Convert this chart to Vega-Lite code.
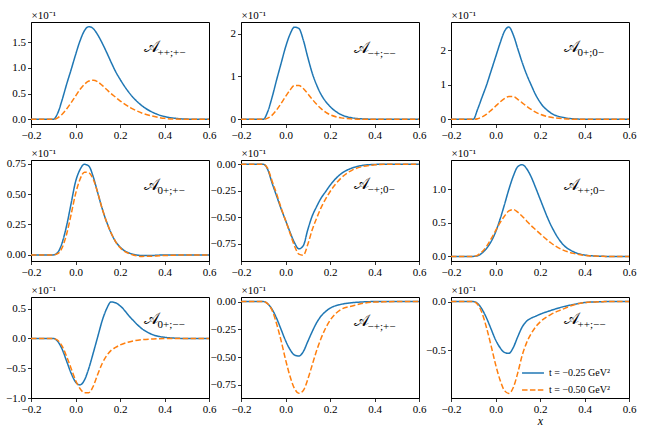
{
"$schema":"https://vega.github.io/schema/vega-lite/v6.json",
"autosize":{"type":"pad"},
"padding":{"left":5,"top":8,"right":5,"bottom":5},
"background":"white",
"datasets":{
"lab":[{"p":1,"sub":"++;+−"},{"p":2,"sub":"−+;−−"},{"p":3,"sub":"0+;0−"},{"p":4,"sub":"0+;+−"},{"p":5,"sub":"−+;0−"},{"p":6,"sub":"++;0−"},{"p":7,"sub":"0+;−−"},{"p":8,"sub":"−+;+−"},{"p":9,"sub":"++;−−"}],
"d":[
{"p":1,"x":-0.2,"a":0,"b":0},{"p":1,"x":-0.1,"a":0,"b":0},{"p":1,"x":-0.08,"a":0.12,"b":0.03},{"p":1,"x":-0.06,"a":0.38,"b":0.1},{"p":1,"x":-0.04,"a":0.68,"b":0.2},{"p":1,"x":-0.02,"a":0.96,"b":0.32},{"p":1,"x":0,"a":1.25,"b":0.45},{"p":1,"x":0.02,"a":1.52,"b":0.58},{"p":1,"x":0.04,"a":1.72,"b":0.68},{"p":1,"x":0.06,"a":1.8,"b":0.745},{"p":1,"x":0.08,"a":1.76,"b":0.76},{"p":1,"x":0.1,"a":1.64,"b":0.73},{"p":1,"x":0.12,"a":1.48,"b":0.66},{"p":1,"x":0.14,"a":1.3,"b":0.58},{"p":1,"x":0.16,"a":1.11,"b":0.5},{"p":1,"x":0.18,"a":0.93,"b":0.43},{"p":1,"x":0.2,"a":0.78,"b":0.36},{"p":1,"x":0.25,"a":0.47,"b":0.22},{"p":1,"x":0.3,"a":0.26,"b":0.12},{"p":1,"x":0.35,"a":0.13,"b":0.06},{"p":1,"x":0.4,"a":0.055,"b":0.02},{"p":1,"x":0.45,"a":0.02,"b":0.005},{"p":1,"x":0.5,"a":0.005,"b":0},{"p":1,"x":0.6,"a":0,"b":0},
{"p":2,"x":-0.2,"a":0,"b":0},{"p":2,"x":-0.1,"a":0,"b":0},{"p":2,"x":-0.08,"a":0.18,"b":0.03},{"p":2,"x":-0.06,"a":0.52,"b":0.1},{"p":2,"x":-0.04,"a":0.92,"b":0.22},{"p":2,"x":-0.02,"a":1.3,"b":0.37},{"p":2,"x":0,"a":1.68,"b":0.53},{"p":2,"x":0.02,"a":1.98,"b":0.68},{"p":2,"x":0.04,"a":2.15,"b":0.79},{"p":2,"x":0.06,"a":2.12,"b":0.79},{"p":2,"x":0.08,"a":1.85,"b":0.72},{"p":2,"x":0.1,"a":1.45,"b":0.6},{"p":2,"x":0.12,"a":1.08,"b":0.47},{"p":2,"x":0.14,"a":0.8,"b":0.35},{"p":2,"x":0.16,"a":0.58,"b":0.25},{"p":2,"x":0.18,"a":0.42,"b":0.17},{"p":2,"x":0.2,"a":0.3,"b":0.11},{"p":2,"x":0.25,"a":0.11,"b":0.035},{"p":2,"x":0.3,"a":0.035,"b":0.01},{"p":2,"x":0.35,"a":0.01,"b":0},{"p":2,"x":0.4,"a":0.003,"b":0},{"p":2,"x":0.45,"a":0,"b":0},{"p":2,"x":0.5,"a":0,"b":0},{"p":2,"x":0.6,"a":0,"b":0},
{"p":3,"x":-0.2,"a":0,"b":0},{"p":3,"x":-0.1,"a":0,"b":0},{"p":3,"x":-0.08,"a":0.3,"b":0.02},{"p":3,"x":-0.06,"a":0.65,"b":0.07},{"p":3,"x":-0.04,"a":1.0,"b":0.15},{"p":3,"x":-0.02,"a":1.4,"b":0.26},{"p":3,"x":0,"a":1.8,"b":0.38},{"p":3,"x":0.02,"a":2.2,"b":0.5},{"p":3,"x":0.04,"a":2.55,"b":0.6},{"p":3,"x":0.06,"a":2.68,"b":0.66},{"p":3,"x":0.08,"a":2.45,"b":0.66},{"p":3,"x":0.1,"a":2.05,"b":0.58},{"p":3,"x":0.12,"a":1.65,"b":0.48},{"p":3,"x":0.14,"a":1.3,"b":0.38},{"p":3,"x":0.16,"a":1.0,"b":0.29},{"p":3,"x":0.18,"a":0.72,"b":0.21},{"p":3,"x":0.2,"a":0.5,"b":0.15},{"p":3,"x":0.25,"a":0.18,"b":0.06},{"p":3,"x":0.3,"a":0.06,"b":0.02},{"p":3,"x":0.35,"a":0.015,"b":0.005},{"p":3,"x":0.4,"a":0.003,"b":0},{"p":3,"x":0.45,"a":0,"b":0},{"p":3,"x":0.5,"a":0,"b":0},{"p":3,"x":0.6,"a":0,"b":0},
{"p":4,"x":-0.2,"a":0,"b":0},{"p":4,"x":-0.1,"a":0,"b":0},{"p":4,"x":-0.08,"a":0.02,"b":0.01},{"p":4,"x":-0.06,"a":0.1,"b":0.06},{"p":4,"x":-0.04,"a":0.24,"b":0.17},{"p":4,"x":-0.02,"a":0.42,"b":0.33},{"p":4,"x":0,"a":0.6,"b":0.5},{"p":4,"x":0.02,"a":0.7,"b":0.62},{"p":4,"x":0.04,"a":0.745,"b":0.68},{"p":4,"x":0.06,"a":0.73,"b":0.675},{"p":4,"x":0.08,"a":0.64,"b":0.62},{"p":4,"x":0.1,"a":0.51,"b":0.51},{"p":4,"x":0.12,"a":0.38,"b":0.38},{"p":4,"x":0.14,"a":0.27,"b":0.27},{"p":4,"x":0.16,"a":0.18,"b":0.18},{"p":4,"x":0.18,"a":0.11,"b":0.11},{"p":4,"x":0.2,"a":0.065,"b":0.06},{"p":4,"x":0.25,"a":0.01,"b":0.005},{"p":4,"x":0.3,"a":-0.005,"b":-0.012},{"p":4,"x":0.35,"a":-0.004,"b":-0.01},{"p":4,"x":0.4,"a":0,"b":-0.005},{"p":4,"x":0.45,"a":0,"b":-0.002},{"p":4,"x":0.5,"a":0,"b":0},{"p":4,"x":0.6,"a":0,"b":0},
{"p":5,"x":-0.2,"a":0,"b":0},{"p":5,"x":-0.1,"a":0,"b":0},{"p":5,"x":-0.08,"a":-0.05,"b":-0.04},{"p":5,"x":-0.06,"a":-0.18,"b":-0.16},{"p":5,"x":-0.04,"a":-0.3,"b":-0.28},{"p":5,"x":-0.02,"a":-0.42,"b":-0.41},{"p":5,"x":0,"a":-0.53,"b":-0.53},{"p":5,"x":0.02,"a":-0.64,"b":-0.65},{"p":5,"x":0.04,"a":-0.74,"b":-0.77},{"p":5,"x":0.06,"a":-0.8,"b":-0.85},{"p":5,"x":0.08,"a":-0.77,"b":-0.86},{"p":5,"x":0.1,"a":-0.62,"b":-0.76},{"p":5,"x":0.12,"a":-0.49,"b":-0.62},{"p":5,"x":0.14,"a":-0.4,"b":-0.51},{"p":5,"x":0.16,"a":-0.32,"b":-0.41},{"p":5,"x":0.18,"a":-0.26,"b":-0.33},{"p":5,"x":0.2,"a":-0.2,"b":-0.26},{"p":5,"x":0.25,"a":-0.09,"b":-0.13},{"p":5,"x":0.3,"a":-0.035,"b":-0.055},{"p":5,"x":0.35,"a":-0.01,"b":-0.02},{"p":5,"x":0.4,"a":-0.002,"b":-0.006},{"p":5,"x":0.45,"a":0,"b":-0.001},{"p":5,"x":0.5,"a":0,"b":0},{"p":5,"x":0.6,"a":0,"b":0},
{"p":6,"x":-0.2,"a":0,"b":0},{"p":6,"x":-0.1,"a":0,"b":0},{"p":6,"x":-0.08,"a":0.01,"b":0.02},{"p":6,"x":-0.06,"a":0.05,"b":0.07},{"p":6,"x":-0.04,"a":0.12,"b":0.15},{"p":6,"x":-0.02,"a":0.22,"b":0.26},{"p":6,"x":0,"a":0.36,"b":0.38},{"p":6,"x":0.02,"a":0.55,"b":0.5},{"p":6,"x":0.04,"a":0.77,"b":0.6},{"p":6,"x":0.06,"a":1.0,"b":0.68},{"p":6,"x":0.08,"a":1.2,"b":0.7},{"p":6,"x":0.1,"a":1.34,"b":0.66},{"p":6,"x":0.12,"a":1.37,"b":0.6},{"p":6,"x":0.14,"a":1.31,"b":0.53},{"p":6,"x":0.16,"a":1.19,"b":0.46},{"p":6,"x":0.18,"a":1.03,"b":0.4},{"p":6,"x":0.2,"a":0.86,"b":0.34},{"p":6,"x":0.25,"a":0.46,"b":0.2},{"p":6,"x":0.3,"a":0.19,"b":0.1},{"p":6,"x":0.35,"a":0.07,"b":0.045},{"p":6,"x":0.4,"a":0.02,"b":0.015},{"p":6,"x":0.45,"a":0.005,"b":0.004},{"p":6,"x":0.5,"a":0,"b":0},{"p":6,"x":0.6,"a":0,"b":0},
{"p":7,"x":-0.2,"a":0,"b":0},{"p":7,"x":-0.1,"a":0,"b":0},{"p":7,"x":-0.08,"a":-0.05,"b":-0.03},{"p":7,"x":-0.06,"a":-0.18,"b":-0.13},{"p":7,"x":-0.04,"a":-0.38,"b":-0.3},{"p":7,"x":-0.02,"a":-0.58,"b":-0.5},{"p":7,"x":0,"a":-0.73,"b":-0.7},{"p":7,"x":0.02,"a":-0.78,"b":-0.84},{"p":7,"x":0.04,"a":-0.7,"b":-0.91},{"p":7,"x":0.06,"a":-0.5,"b":-0.91},{"p":7,"x":0.08,"a":-0.24,"b":-0.8},{"p":7,"x":0.1,"a":0.03,"b":-0.6},{"p":7,"x":0.12,"a":0.3,"b":-0.42},{"p":7,"x":0.14,"a":0.5,"b":-0.29},{"p":7,"x":0.16,"a":0.615,"b":-0.2},{"p":7,"x":0.18,"a":0.6,"b":-0.15},{"p":7,"x":0.2,"a":0.55,"b":-0.11},{"p":7,"x":0.25,"a":0.34,"b":-0.05},{"p":7,"x":0.3,"a":0.16,"b":-0.02},{"p":7,"x":0.35,"a":0.06,"b":-0.007},{"p":7,"x":0.4,"a":0.02,"b":-0.002},{"p":7,"x":0.45,"a":0.005,"b":0},{"p":7,"x":0.5,"a":0,"b":0},{"p":7,"x":0.6,"a":0,"b":0},
{"p":8,"x":-0.2,"a":0,"b":0},{"p":8,"x":-0.1,"a":0,"b":0},{"p":8,"x":-0.08,"a":-0.02,"b":-0.02},{"p":8,"x":-0.06,"a":-0.07,"b":-0.08},{"p":8,"x":-0.04,"a":-0.15,"b":-0.2},{"p":8,"x":-0.02,"a":-0.25,"b":-0.35},{"p":8,"x":0,"a":-0.35,"b":-0.52},{"p":8,"x":0.02,"a":-0.43,"b":-0.67},{"p":8,"x":0.04,"a":-0.48,"b":-0.78},{"p":8,"x":0.06,"a":-0.49,"b":-0.825},{"p":8,"x":0.08,"a":-0.45,"b":-0.8},{"p":8,"x":0.1,"a":-0.36,"b":-0.7},{"p":8,"x":0.12,"a":-0.27,"b":-0.57},{"p":8,"x":0.14,"a":-0.19,"b":-0.44},{"p":8,"x":0.16,"a":-0.13,"b":-0.33},{"p":8,"x":0.18,"a":-0.09,"b":-0.24},{"p":8,"x":0.2,"a":-0.06,"b":-0.17},{"p":8,"x":0.25,"a":-0.025,"b":-0.07},{"p":8,"x":0.3,"a":-0.01,"b":-0.04},{"p":8,"x":0.35,"a":-0.003,"b":-0.015},{"p":8,"x":0.4,"a":0,"b":-0.005},{"p":8,"x":0.45,"a":0,"b":-0.002},{"p":8,"x":0.5,"a":0,"b":0},{"p":8,"x":0.6,"a":0,"b":0},
{"p":9,"x":-0.2,"a":0,"b":0},{"p":9,"x":-0.1,"a":0,"b":0},{"p":9,"x":-0.08,"a":-0.02,"b":-0.03},{"p":9,"x":-0.06,"a":-0.08,"b":-0.12},{"p":9,"x":-0.04,"a":-0.17,"b":-0.27},{"p":9,"x":-0.02,"a":-0.28,"b":-0.45},{"p":9,"x":0,"a":-0.39,"b":-0.64},{"p":9,"x":0.02,"a":-0.47,"b":-0.8},{"p":9,"x":0.04,"a":-0.52,"b":-0.91},{"p":9,"x":0.06,"a":-0.53,"b":-0.94},{"p":9,"x":0.08,"a":-0.47,"b":-0.88},{"p":9,"x":0.1,"a":-0.36,"b":-0.73},{"p":9,"x":0.12,"a":-0.26,"b":-0.55},{"p":9,"x":0.14,"a":-0.2,"b":-0.42},{"p":9,"x":0.16,"a":-0.17,"b":-0.33},{"p":9,"x":0.18,"a":-0.15,"b":-0.26},{"p":9,"x":0.2,"a":-0.13,"b":-0.21},{"p":9,"x":0.25,"a":-0.09,"b":-0.13},{"p":9,"x":0.3,"a":-0.055,"b":-0.08},{"p":9,"x":0.35,"a":-0.03,"b":-0.035},{"p":9,"x":0.4,"a":-0.01,"b":-0.01},{"p":9,"x":0.45,"a":-0.003,"b":-0.003},{"p":9,"x":0.5,"a":0,"b":0},{"p":9,"x":0.6,"a":0,"b":0}
]},
"columns":3,
"spacing":{"row":36,"column":32},
"bounds":"flush",
"resolve":{"scale":{"color":"independent","strokeDash":"independent"}},
"concat":[
{"width":178,"height":102,"layer":[
{"data":{"name":"d"},"transform":[{"filter":"datum.p==1"},{"fold":["a","b"],"as":["s","y"]}],"mark":{"type":"line","strokeWidth":1.5,"interpolate":"monotone"},
"encoding":{"x":{"field":"x","type":"quantitative","scale":{"domain":[-0.2,0.6],"nice":false,"zero":false},"axis":{"values":[-0.2,0,0.2,0.4,0.6],"format":".1f","title":null}},
"y":{"field":"y","type":"quantitative","scale":{"domain":[-0.09,1.89],"nice":false,"zero":false},"axis":{"values":[0,0.5,1,1.5],"format":".1f","title":"×10⁻¹"}},
"color":{"field":"s","type":"nominal","scale":{"domain":["a","b"],"range":["#1f77b4","#ff7f0e"]},"legend":null},
"strokeDash":{"field":"s","type":"nominal","scale":{"domain":["a","b"],"range":[[1,0],[5.5,2.4]]},"legend":null}}},
{"data":{"name":"lab"},"transform":[{"filter":"datum.p==1"}],"mark":{"type":"text","text":"𝒜","align":"left","baseline":"middle","fontSize":16,"dy":-4},"encoding":{"x":{"datum":0.31,"axis":{"values":[-0.2,0,0.2,0.4,0.6],"format":".1f","title":null}},"y":{"datum":1.33,"axis":{"values":[0,0.5,1,1.5],"format":".1f","title":"×10⁻¹"}}}},
{"data":{"name":"lab"},"transform":[{"filter":"datum.p==1"}],"mark":{"type":"text","align":"left","baseline":"middle","fontSize":11,"dx":13,"dy":2},"encoding":{"x":{"datum":0.31,"axis":{"values":[-0.2,0,0.2,0.4,0.6],"format":".1f","title":null}},"y":{"datum":1.33,"axis":{"values":[0,0.5,1,1.5],"format":".1f","title":"×10⁻¹"}},"text":{"field":"sub"}}}
]},
{"width":178,"height":102,"layer":[
{"data":{"name":"d"},"transform":[{"filter":"datum.p==2"},{"fold":["a","b"],"as":["s","y"]}],"mark":{"type":"line","strokeWidth":1.5,"interpolate":"monotone"},
"encoding":{"x":{"field":"x","type":"quantitative","scale":{"domain":[-0.2,0.6],"nice":false,"zero":false},"axis":{"values":[-0.2,0,0.2,0.4,0.6],"format":".1f","title":null}},
"y":{"field":"y","type":"quantitative","scale":{"domain":[-0.108,2.27],"nice":false,"zero":false},"axis":{"values":[0,1,2],"format":"d","title":"×10⁻¹"}},
"color":{"field":"s","type":"nominal","scale":{"domain":["a","b"],"range":["#1f77b4","#ff7f0e"]},"legend":null},
"strokeDash":{"field":"s","type":"nominal","scale":{"domain":["a","b"],"range":[[1,0],[5.5,2.4]]},"legend":null}}},
{"data":{"name":"lab"},"transform":[{"filter":"datum.p==2"}],"mark":{"type":"text","text":"𝒜","align":"left","baseline":"middle","fontSize":16,"dy":-4},"encoding":{"x":{"datum":0.31,"axis":{"values":[-0.2,0,0.2,0.4,0.6],"format":".1f","title":null}},"y":{"datum":1.58,"axis":{"values":[0,1,2],"format":"d","title":"×10⁻¹"}}}},
{"data":{"name":"lab"},"transform":[{"filter":"datum.p==2"}],"mark":{"type":"text","align":"left","baseline":"middle","fontSize":11,"dx":13,"dy":2},"encoding":{"x":{"datum":0.31,"axis":{"values":[-0.2,0,0.2,0.4,0.6],"format":".1f","title":null}},"y":{"datum":1.58,"axis":{"values":[0,1,2],"format":"d","title":"×10⁻¹"}},"text":{"field":"sub"}}}
]},
{"width":178,"height":102,"layer":[
{"data":{"name":"d"},"transform":[{"filter":"datum.p==3"},{"fold":["a","b"],"as":["s","y"]}],"mark":{"type":"line","strokeWidth":1.5,"interpolate":"monotone"},
"encoding":{"x":{"field":"x","type":"quantitative","scale":{"domain":[-0.2,0.6],"nice":false,"zero":false},"axis":{"values":[-0.2,0,0.2,0.4,0.6],"format":".1f","title":null}},
"y":{"field":"y","type":"quantitative","scale":{"domain":[-0.135,2.825],"nice":false,"zero":false},"axis":{"values":[0,1,2],"format":"d","title":"×10⁻¹"}},
"color":{"field":"s","type":"nominal","scale":{"domain":["a","b"],"range":["#1f77b4","#ff7f0e"]},"legend":null},
"strokeDash":{"field":"s","type":"nominal","scale":{"domain":["a","b"],"range":[[1,0],[5.5,2.4]]},"legend":null}}},
{"data":{"name":"lab"},"transform":[{"filter":"datum.p==3"}],"mark":{"type":"text","text":"𝒜","align":"left","baseline":"middle","fontSize":16,"dy":-4},"encoding":{"x":{"datum":0.31,"axis":{"values":[-0.2,0,0.2,0.4,0.6],"format":".1f","title":null}},"y":{"datum":1.99,"axis":{"values":[0,1,2],"format":"d","title":"×10⁻¹"}}}},
{"data":{"name":"lab"},"transform":[{"filter":"datum.p==3"}],"mark":{"type":"text","align":"left","baseline":"middle","fontSize":11,"dx":13,"dy":2},"encoding":{"x":{"datum":0.31,"axis":{"values":[-0.2,0,0.2,0.4,0.6],"format":".1f","title":null}},"y":{"datum":1.99,"axis":{"values":[0,1,2],"format":"d","title":"×10⁻¹"}},"text":{"field":"sub"}}}
]},
{"width":178,"height":101,"layer":[
{"data":{"name":"d"},"transform":[{"filter":"datum.p==4"},{"fold":["a","b"],"as":["s","y"]}],"mark":{"type":"line","strokeWidth":1.5,"interpolate":"monotone"},
"encoding":{"x":{"field":"x","type":"quantitative","scale":{"domain":[-0.2,0.6],"nice":false,"zero":false},"axis":{"values":[-0.2,0,0.2,0.4,0.6],"format":".1f","title":null}},
"y":{"field":"y","type":"quantitative","scale":{"domain":[-0.05,0.78],"nice":false,"zero":false},"axis":{"values":[0,0.25,0.5,0.75],"format":".2f","title":"×10⁻¹"}},
"color":{"field":"s","type":"nominal","scale":{"domain":["a","b"],"range":["#1f77b4","#ff7f0e"]},"legend":null},
"strokeDash":{"field":"s","type":"nominal","scale":{"domain":["a","b"],"range":[[1,0],[5.5,2.4]]},"legend":null}}},
{"data":{"name":"lab"},"transform":[{"filter":"datum.p==4"}],"mark":{"type":"text","text":"𝒜","align":"left","baseline":"middle","fontSize":16,"dy":-4},"encoding":{"x":{"datum":0.31,"axis":{"values":[-0.2,0,0.2,0.4,0.6],"format":".1f","title":null}},"y":{"datum":0.544,"axis":{"values":[0,0.25,0.5,0.75],"format":".2f","title":"×10⁻¹"}}}},
{"data":{"name":"lab"},"transform":[{"filter":"datum.p==4"}],"mark":{"type":"text","align":"left","baseline":"middle","fontSize":11,"dx":13,"dy":2},"encoding":{"x":{"datum":0.31,"axis":{"values":[-0.2,0,0.2,0.4,0.6],"format":".1f","title":null}},"y":{"datum":0.544,"axis":{"values":[0,0.25,0.5,0.75],"format":".2f","title":"×10⁻¹"}},"text":{"field":"sub"}}}
]},
{"width":178,"height":101,"layer":[
{"data":{"name":"d"},"transform":[{"filter":"datum.p==5"},{"fold":["a","b"],"as":["s","y"]}],"mark":{"type":"line","strokeWidth":1.5,"interpolate":"monotone"},
"encoding":{"x":{"field":"x","type":"quantitative","scale":{"domain":[-0.2,0.6],"nice":false,"zero":false},"axis":{"values":[-0.2,0,0.2,0.4,0.6],"format":".1f","title":null}},
"y":{"field":"y","type":"quantitative","scale":{"domain":[-0.915,0.04],"nice":false,"zero":false},"axis":{"values":[0,-0.25,-0.5,-0.75],"format":".2f","title":"×10⁻¹"}},
"color":{"field":"s","type":"nominal","scale":{"domain":["a","b"],"range":["#1f77b4","#ff7f0e"]},"legend":null},
"strokeDash":{"field":"s","type":"nominal","scale":{"domain":["a","b"],"range":[[1,0],[5.5,2.4]]},"legend":null}}},
{"data":{"name":"lab"},"transform":[{"filter":"datum.p==5"}],"mark":{"type":"text","text":"𝒜","align":"left","baseline":"middle","fontSize":16,"dy":-4},"encoding":{"x":{"datum":0.31,"axis":{"values":[-0.2,0,0.2,0.4,0.6],"format":".1f","title":null}},"y":{"datum":-0.227,"axis":{"values":[0,-0.25,-0.5,-0.75],"format":".2f","title":"×10⁻¹"}}}},
{"data":{"name":"lab"},"transform":[{"filter":"datum.p==5"}],"mark":{"type":"text","align":"left","baseline":"middle","fontSize":11,"dx":13,"dy":2},"encoding":{"x":{"datum":0.31,"axis":{"values":[-0.2,0,0.2,0.4,0.6],"format":".1f","title":null}},"y":{"datum":-0.227,"axis":{"values":[0,-0.25,-0.5,-0.75],"format":".2f","title":"×10⁻¹"}},"text":{"field":"sub"}}}
]},
{"width":178,"height":101,"layer":[
{"data":{"name":"d"},"transform":[{"filter":"datum.p==6"},{"fold":["a","b"],"as":["s","y"]}],"mark":{"type":"line","strokeWidth":1.5,"interpolate":"monotone"},
"encoding":{"x":{"field":"x","type":"quantitative","scale":{"domain":[-0.2,0.6],"nice":false,"zero":false},"axis":{"values":[-0.2,0,0.2,0.4,0.6],"format":".1f","title":null}},
"y":{"field":"y","type":"quantitative","scale":{"domain":[-0.069,1.44],"nice":false,"zero":false},"axis":{"values":[0,0.5,1],"format":".1f","title":"×10⁻¹"}},
"color":{"field":"s","type":"nominal","scale":{"domain":["a","b"],"range":["#1f77b4","#ff7f0e"]},"legend":null},
"strokeDash":{"field":"s","type":"nominal","scale":{"domain":["a","b"],"range":[[1,0],[5.5,2.4]]},"legend":null}}},
{"data":{"name":"lab"},"transform":[{"filter":"datum.p==6"}],"mark":{"type":"text","text":"𝒜","align":"left","baseline":"middle","fontSize":16,"dy":-4},"encoding":{"x":{"datum":0.31,"axis":{"values":[-0.2,0,0.2,0.4,0.6],"format":".1f","title":null}},"y":{"datum":1.01,"axis":{"values":[0,0.5,1],"format":".1f","title":"×10⁻¹"}}}},
{"data":{"name":"lab"},"transform":[{"filter":"datum.p==6"}],"mark":{"type":"text","align":"left","baseline":"middle","fontSize":11,"dx":13,"dy":2},"encoding":{"x":{"datum":0.31,"axis":{"values":[-0.2,0,0.2,0.4,0.6],"format":".1f","title":null}},"y":{"datum":1.01,"axis":{"values":[0,0.5,1],"format":".1f","title":"×10⁻¹"}},"text":{"field":"sub"}}}
]},
{"width":178,"height":101,"layer":[
{"data":{"name":"d"},"transform":[{"filter":"datum.p==7"},{"fold":["a","b"],"as":["s","y"]}],"mark":{"type":"line","strokeWidth":1.5,"interpolate":"monotone"},
"encoding":{"x":{"field":"x","type":"quantitative","scale":{"domain":[-0.2,0.6],"nice":false,"zero":false},"axis":{"values":[-0.2,0,0.2,0.4,0.6],"format":".1f","title":null}},
"y":{"field":"y","type":"quantitative","scale":{"domain":[-1.0,0.697],"nice":false,"zero":false},"axis":{"values":[-1,-0.5,0,0.5],"format":".1f","title":"×10⁻¹"}},
"color":{"field":"s","type":"nominal","scale":{"domain":["a","b"],"range":["#1f77b4","#ff7f0e"]},"legend":null},
"strokeDash":{"field":"s","type":"nominal","scale":{"domain":["a","b"],"range":[[1,0],[5.5,2.4]]},"legend":null}}},
{"data":{"name":"lab"},"transform":[{"filter":"datum.p==7"}],"mark":{"type":"text","text":"𝒜","align":"left","baseline":"middle","fontSize":16,"dy":-4},"encoding":{"x":{"datum":0.31,"axis":{"values":[-0.2,0,0.2,0.4,0.6],"format":".1f","title":null}},"y":{"datum":0.26,"axis":{"values":[-1,-0.5,0,0.5],"format":".1f","title":"×10⁻¹"}}}},
{"data":{"name":"lab"},"transform":[{"filter":"datum.p==7"}],"mark":{"type":"text","align":"left","baseline":"middle","fontSize":11,"dx":13,"dy":2},"encoding":{"x":{"datum":0.31,"axis":{"values":[-0.2,0,0.2,0.4,0.6],"format":".1f","title":null}},"y":{"datum":0.26,"axis":{"values":[-1,-0.5,0,0.5],"format":".1f","title":"×10⁻¹"}},"text":{"field":"sub"}}}
]},
{"width":178,"height":101,"layer":[
{"data":{"name":"d"},"transform":[{"filter":"datum.p==8"},{"fold":["a","b"],"as":["s","y"]}],"mark":{"type":"line","strokeWidth":1.5,"interpolate":"monotone"},
"encoding":{"x":{"field":"x","type":"quantitative","scale":{"domain":[-0.2,0.6],"nice":false,"zero":false},"axis":{"values":[-0.2,0,0.2,0.4,0.6],"format":".1f","title":null}},
"y":{"field":"y","type":"quantitative","scale":{"domain":[-0.867,0.041],"nice":false,"zero":false},"axis":{"values":[0,-0.25,-0.5,-0.75],"format":".2f","title":"×10⁻¹"}},
"color":{"field":"s","type":"nominal","scale":{"domain":["a","b"],"range":["#1f77b4","#ff7f0e"]},"legend":null},
"strokeDash":{"field":"s","type":"nominal","scale":{"domain":["a","b"],"range":[[1,0],[5.5,2.4]]},"legend":null}}},
{"data":{"name":"lab"},"transform":[{"filter":"datum.p==8"}],"mark":{"type":"text","text":"𝒜","align":"left","baseline":"middle","fontSize":16,"dy":-4},"encoding":{"x":{"datum":0.31,"axis":{"values":[-0.2,0,0.2,0.4,0.6],"format":".1f","title":null}},"y":{"datum":-0.215,"axis":{"values":[0,-0.25,-0.5,-0.75],"format":".2f","title":"×10⁻¹"}}}},
{"data":{"name":"lab"},"transform":[{"filter":"datum.p==8"}],"mark":{"type":"text","align":"left","baseline":"middle","fontSize":11,"dx":13,"dy":2},"encoding":{"x":{"datum":0.31,"axis":{"values":[-0.2,0,0.2,0.4,0.6],"format":".1f","title":null}},"y":{"datum":-0.215,"axis":{"values":[0,-0.25,-0.5,-0.75],"format":".2f","title":"×10⁻¹"}},"text":{"field":"sub"}}}
]},
{"width":178,"height":101,"layer":[
{"data":{"name":"d"},"transform":[{"filter":"datum.p==9"},{"fold":["a","b"],"as":["s","y"]}],"mark":{"type":"line","strokeWidth":1.5,"interpolate":"monotone"},
"encoding":{"x":{"field":"x","type":"quantitative","scale":{"domain":[-0.2,0.6],"nice":false,"zero":false},"axis":{"values":[-0.2,0,0.2,0.4,0.6],"format":".1f","title":"x","titleFontStyle":"italic","titleFontSize":12,"titlePadding":1}},
"y":{"field":"y","type":"quantitative","scale":{"domain":[-0.987,0.047],"nice":false,"zero":false},"axis":{"values":[0,-0.5],"format":".1f","title":"×10⁻¹"}},
"color":{"field":"s","type":"nominal","scale":{"domain":["a","b"],"range":["#1f77b4","#ff7f0e"]},"legend":{"orient":"none","legendX":70,"legendY":64,"title":null,"labelExpr":"datum.value=='a' ? 't = −0.25 GeV²' : 't = −0.50 GeV²'","symbolType":"stroke","symbolStrokeWidth":1.5,"symbolSize":480,"labelFont":"Liberation Serif","labelFontSize":10,"labelColor":"black","rowPadding":0}},
"strokeDash":{"field":"s","type":"nominal","scale":{"domain":["a","b"],"range":[[1,0],[5.5,2.4]]},"legend":{"orient":"none","legendX":70,"legendY":64,"title":null,"labelExpr":"datum.value=='a' ? 't = −0.25 GeV²' : 't = −0.50 GeV²'","symbolType":"stroke","symbolStrokeWidth":1.5,"symbolSize":480,"labelFont":"Liberation Serif","labelFontSize":10,"labelColor":"black","rowPadding":0}}}},
{"data":{"name":"lab"},"transform":[{"filter":"datum.p==9"}],"mark":{"type":"text","text":"𝒜","align":"left","baseline":"middle","fontSize":16,"dy":-4},"encoding":{"x":{"datum":0.31,"axis":{"values":[-0.2,0,0.2,0.4,0.6],"format":".1f","title":"x","titleFontStyle":"italic","titleFontSize":12,"titlePadding":1}},"y":{"datum":-0.22,"axis":{"values":[0,-0.5],"format":".1f","title":"×10⁻¹"}}}},
{"data":{"name":"lab"},"transform":[{"filter":"datum.p==9"}],"mark":{"type":"text","align":"left","baseline":"middle","fontSize":11,"dx":13,"dy":2},"encoding":{"x":{"datum":0.31,"axis":{"values":[-0.2,0,0.2,0.4,0.6],"format":".1f","title":"x","titleFontStyle":"italic","titleFontSize":12,"titlePadding":1}},"y":{"datum":-0.22,"axis":{"values":[0,-0.5],"format":".1f","title":"×10⁻¹"}},"text":{"field":"sub"}}}
]}
],
"config":{
"view":{"stroke":"black","strokeWidth":1},
"axis":{"grid":false,"labelOverlap":false,"labelFlush":false,"labelBound":false,"domainColor":"black","domainWidth":1,"tickColor":"black","tickSize":3.5,"tickWidth":0.8,"labelFont":"Liberation Serif","labelFontSize":11,"labelColor":"black","labelPadding":2,"titleFont":"Liberation Serif","titleFontWeight":"normal","titleFontSize":11,"titleColor":"black"},
"axisY":{"titleAngle":0,"titleX":0,"titleY":-2,"titleAlign":"left","titleBaseline":"bottom"},
"text":{"font":"Liberation Serif","color":"black"}
}
}
